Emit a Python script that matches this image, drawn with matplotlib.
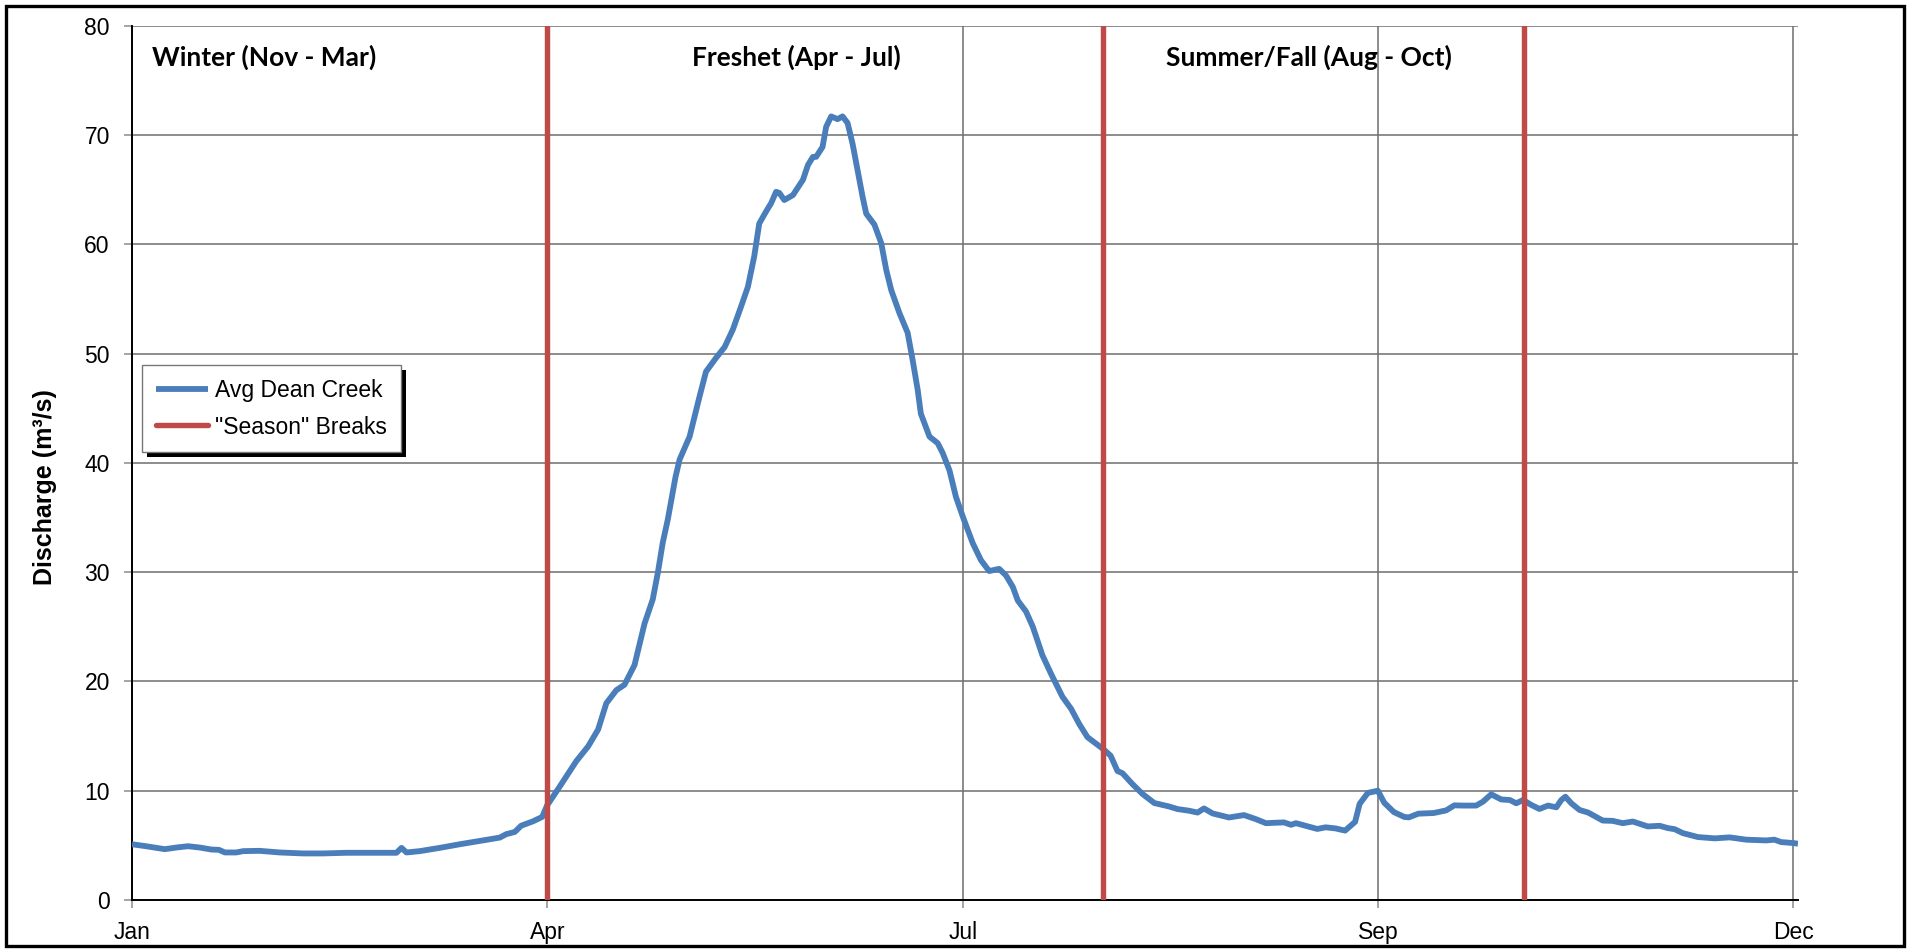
import matplotlib
matplotlib.use("Agg")
import matplotlib.pyplot as plt
from matplotlib.patches import Rectangle
from matplotlib.transforms import IdentityTransform

# ---------------- data (day of year, leap year, Jan 1 = 0) ----------------
day = [0, 3.1, 7.2, 9.7, 12.3, 14.9, 17.4, 19.1, 20.4, 22.9, 24.4, 28.0, 32.4,
       37.6, 42.0, 47.1, 52.2, 58.1, 59.2, 60.3, 63.2, 67.6, 72.0, 76.4, 80.8,
       82.2, 84.1, 85.5, 88.1, 90.1, 91.2, 94.0, 97.6, 100.2, 102.4, 104.2,
       106.4, 108.2, 110.4, 112.6, 114.4, 115.5, 116.6, 117.7, 119.4, 120.3,
       122.5, 124.7, 126.1, 128.3, 130.2, 132.0, 133.8, 135.3, 136.7, 137.8,
       139.3, 140.4, 141.5, 142.2, 143.3, 145.2, 147.4, 148.5, 149.6, 150.3,
       151.7, 152.5, 153.6, 155.0, 156.1, 157.2, 158.3, 159.4, 160.5, 161.3,
       163.1, 164.6, 165.7, 166.8, 168.6, 170.4, 171.5, 172.6, 173.3, 175.2,
       177.0, 178.1, 179.6, 181.0, 182.5, 184.7, 186.5, 188.3, 190.5, 192.0,
       193.5, 194.6, 196.4, 197.9, 200.0, 201.9, 204.4, 206.3, 208.1, 209.9,
       211.8, 213.4, 215.0, 216.5, 217.6, 219.8, 222.0, 224.6, 227.8, 229.7,
       232.2, 234.1, 235.5, 237.4, 241.0, 244.3, 246.9, 249.1, 253.1, 254.6,
       255.7, 260.4, 262.2, 264.4, 266.5, 268.7, 269.7, 271.5, 273.7, 275.1,
       277.2, 279.5, 280.5, 282.6, 286.0, 288.7, 290.5, 292.4, 295.3, 296.8,
       298.6, 300.8, 302.7, 304.1, 305.6, 307.4, 309.2, 311.1, 312.9, 314.0,
       314.9, 316.2, 318.0, 319.9, 323.1, 325.3, 327.5, 329.7, 333.0, 335.6,
       337.4, 338.9, 340.7, 344.0, 347.7, 351.0, 354.6, 359.0, 360.8, 362.3,
       365.0, 366.0]
discharge = [5.1, 4.92, 4.65, 4.8, 4.92, 4.8, 4.62, 4.59, 4.35, 4.35, 4.47, 4.5,
             4.35, 4.26, 4.26, 4.32, 4.32, 4.32, 4.77, 4.35, 4.47, 4.77, 5.1,
             5.4, 5.71, 6.02, 6.23, 6.8, 7.2, 7.6, 8.66, 10.4, 12.7, 14.05,
             15.6, 18.0, 19.2, 19.7, 21.5, 25.3, 27.5, 29.9, 32.7, 34.8, 38.7,
             40.3, 42.4, 46.1, 48.35, 49.6, 50.6, 52.2, 54.3, 56.1, 58.9, 61.9,
             63.0, 63.75, 64.8, 64.7, 64.05, 64.5, 65.9, 67.25, 68.0, 68.0,
             68.9, 70.75, 71.7, 71.45, 71.7, 71.1, 69.2, 66.8, 64.35, 62.8,
             61.8, 60.1, 57.65, 55.8, 53.7, 51.9, 49.4, 46.7, 44.5, 42.4, 41.8,
             40.9, 39.3, 36.9, 35.1, 32.65, 31.1, 30.1, 30.3, 29.7, 28.65,
             27.4, 26.4, 25.0, 22.4, 20.7, 18.6, 17.5, 16.1, 14.9, 14.3, 13.8,
             13.2, 11.8, 11.6, 10.6, 9.7, 8.87, 8.56, 8.32, 8.17, 8.0, 8.38,
             7.92, 7.55, 7.77, 7.4, 7.03, 7.1, 6.88, 7.03, 6.5, 6.65, 6.55,
             6.35, 7.15, 8.8, 9.8, 10.0, 8.9, 8.05, 7.6, 7.56, 7.9, 7.96, 8.2,
             8.66, 8.64, 8.64, 9.0, 9.67, 9.2, 9.15, 8.85, 9.15, 8.7, 8.33,
             8.64, 8.48, 9.15, 9.45, 8.85, 8.24, 8.0, 7.27, 7.24, 7.03, 7.18,
             6.73, 6.79, 6.58, 6.48, 6.12, 5.76, 5.64, 5.73, 5.52, 5.45, 5.52,
             5.3, 5.21, 5.15]

season_breaks = [91.25, 213.4, 305.8]
season_labels = ["Winter (Nov - Mar)", "Freshet (Apr - Jul)", "Summer/Fall (Aug - Oct)"]
month_ticks = [0, 91.25, 182.5, 273.75, 365]
month_labels = ["Jan", "Apr", "Jul", "Sep", "Dec"]
y_ticks = [0, 10, 20, 30, 40, 50, 60, 70, 80]

# ---------------- figure ----------------
W, H = 1911, 951
fig = plt.figure(figsize=(W / 100, H / 100), dpi=100)
fig.patch.set_facecolor("white")

L, R, T, B = 132, 1798, 25.7, 900
ax = fig.add_axes([L / W, 1 - B / H, (R - L) / W, (B - T) / H])

blue = "#4A7EBB"
red = "#BE4B48"

ax.plot(day, discharge, color=blue, lw=4.2, solid_joinstyle="round",
        solid_capstyle="butt", zorder=3, label="Avg Dean Creek")
for i, xb in enumerate(season_breaks):
    ax.plot([xb, xb], [0, 80], color=red, lw=3.9, solid_capstyle="round",
            zorder=4, label='"Season" Breaks' if i == 0 else None)

ax.set_xlim(0, 366)
ax.set_ylim(0, 80)
ax.set_xticks(month_ticks)
ax.set_xticklabels(month_labels)
ax.set_yticks(y_ticks)

ax.grid(True, color="#6E6E6E", lw=1.1, zorder=0)
ax.set_axisbelow(True)
for s in ["top", "right"]:
    ax.spines[s].set_visible(False)
for s in ["left", "bottom"]:
    ax.spines[s].set_color("black")
    ax.spines[s].set_linewidth(1.4)
    ax.spines[s].set_zorder(2)

ax.tick_params(axis="both", direction="out", length=6, width=1.1,
               color="#8C8C8C", labelsize=16.5)
ax.tick_params(axis="y", pad=10)
ax.tick_params(axis="x", pad=9)
for lab in ax.get_xticklabels() + ax.get_yticklabels():
    lab.set_fontfamily(["Liberation Sans", "DejaVu Sans"])
    lab.set_fontsize(16.5)

fig.text(45 / W, 1 - 487 / H, "Discharge (m³/s)", rotation=90, ha="center",
         va="center", fontsize=18, fontweight="bold",
         family=["Liberation Sans", "DejaVu Sans"])

# season labels
season_x = [152, 692, 1166]
for xp, txt in zip(season_x, season_labels):
    fig.text(xp / W, 1 - 57 / H, txt, ha="left", va="center", fontsize=19,
             fontweight="bold", family=["Lato", "DejaVu Sans"])

# legend
leg = ax.legend(loc="upper left", bbox_to_anchor=((142 - L) / (R - L), (B - 365) / (B - T)),
                borderaxespad=0, frameon=True, fancybox=False, shadow=False,
                framealpha=1.0,
                prop={"family": ["Liberation Sans", "DejaVu Sans"], "size": 16.5},
                handlelength=2.3, handletextpad=0.3, labelspacing=0.6,
                borderpad=0.6)
leg.get_frame().set_edgecolor("#777777")
leg.get_frame().set_facecolor("white")
leg.get_frame().set_linewidth(1.0)
leg.set_zorder(10)

fig.canvas.draw()
bb = leg.get_window_extent()
shadow = Rectangle((bb.x0 + 5, bb.y0 - 5), bb.width, bb.height,
                   transform=IdentityTransform(), facecolor="black",
                   edgecolor="none", zorder=9, clip_on=False)
ax.add_artist(shadow)

# outer frame
frame = Rectangle((6 / W, 5 / H), (W - 13) / W, (H - 11) / H,
                  transform=fig.transFigure, facecolor="none",
                  edgecolor="black", lw=2.4, zorder=20)
fig.patches.append(frame)

fig.savefig("out.png", dpi=100, facecolor="white")
